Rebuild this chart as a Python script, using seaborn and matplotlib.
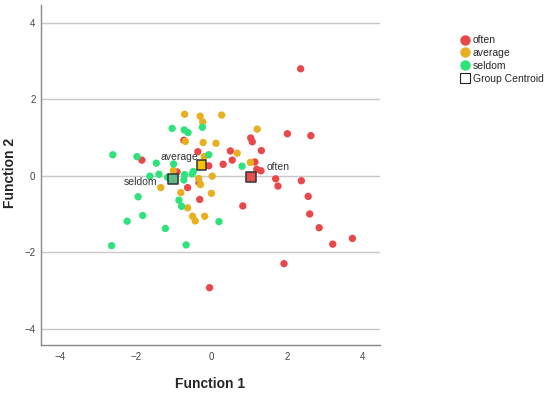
import matplotlib
matplotlib.use("Agg")
import matplotlib.pyplot as plt
import seaborn as sns
import pandas as pd
from matplotlib.lines import Line2D

often_x = [2.36, 2.01, 2.63, -0.73, 1.04, 1.08, 1.32, 0.50, 0.55, 0.31, -0.36, -1.84, -0.07,
           1.15, 1.20, 1.31, -0.91, -0.33, 1.70, 1.76, 2.38, -0.63, -0.31, 0.83, 2.56, 2.60,
           2.85, 3.73, 3.21, 1.92, -0.05]
often_y = [2.80, 1.10, 1.05, 0.93, 0.99, 0.89, 0.66, 0.65, 0.41, 0.30, 0.63, 0.41, 0.26,
           0.36, 0.17, 0.13, 0.10, -0.18, -0.08, -0.27, -0.13, -0.31, -0.62, -0.79, -0.54, -1.00,
           -1.36, -1.64, -1.79, -2.30, -2.93]
average_x = [-0.71, -0.30, -0.23, 0.27, 1.21, -0.69, -0.22, 0.12, 0.68, -0.19, 1.03, -1.01,
             -0.34, 0.02, -0.29, -1.34, -0.81, 0.00, -0.63, -0.50, -0.43, -0.18]
average_y = [1.61, 1.56, 1.41, 1.59, 1.22, 0.90, 0.87, 0.85, 0.59, 0.50, 0.35, 0.14,
             -0.07, -0.01, -0.23, -0.31, -0.44, -0.46, -0.84, -1.06, -1.18, -1.06]
seldom_x = [-1.04, -0.72, -0.62, -0.24, -2.61, -1.97, -1.46, -1.00, -0.07, 0.81, -1.63, -1.39,
            -1.16, -0.71, -0.73, -0.51, -0.48, -1.94, -0.86, -0.79, -1.82, -2.23, 0.20, -1.22,
            -2.64, -0.67]
seldom_y = [1.24, 1.20, 1.13, 1.27, 0.55, 0.50, 0.33, 0.31, 0.55, 0.25, -0.01, 0.04,
            -0.04, 0.03, -0.11, 0.05, 0.11, -0.55, -0.64, -0.80, -1.04, -1.19, -1.20, -1.38,
            -1.83, -1.81]

groups = ["often", "average", "seldom"]
centroid_x = [1.05, -0.26, -1.02]
centroid_y = [-0.03, 0.28, -0.09]
x_ticks = [-4, -2, 0, 2, 4]
y_ticks = [-4, -2, 0, 2, 4]

colors = {"often": "#e8484b", "average": "#e8b020", "seldom": "#2ee27c"}
centroid_colors = {"often": "#e85050", "average": "#f3c300", "seldom": "#62b98a"}

df = pd.DataFrame({
    "Function 1": often_x + average_x + seldom_x,
    "Function 2": often_y + average_y + seldom_y,
    "group": ["often"] * len(often_x) + ["average"] * len(average_x) + ["seldom"] * len(seldom_x),
})
cdf = pd.DataFrame({"x": centroid_x, "y": centroid_y, "group": groups})

sns.set_style("white")
plt.rcParams["font.family"] = ["Liberation Sans", "DejaVu Sans"]

fig = plt.figure(figsize=(5.5, 3.94), dpi=100)
ax = fig.add_axes([41 / 550, 1 - 345 / 394, (380 - 41) / 550, (345 - 5) / 394])

for yv in y_ticks:
    ax.axhline(yv, color="#c8c8c8", lw=1.0, zorder=0)

sns.scatterplot(data=df, x="Function 1", y="Function 2", hue="group", hue_order=groups,
                palette=colors, s=28, linewidth=0, ax=ax, legend=False, zorder=3)
sns.scatterplot(data=cdf, x="x", y="y", hue="group", hue_order=groups,
                palette=centroid_colors, marker="s", s=48, edgecolor="#333333",
                linewidth=1.1, ax=ax, legend=False, zorder=4)

ax.annotate("average", (centroid_x[1], centroid_y[1]), xytext=(-2.5, 6), textcoords="offset points",
            ha="right", va="center", fontsize=7.5, color="#333333", zorder=5)
ax.annotate("often", (centroid_x[0], centroid_y[0]), xytext=(11.5, 7), textcoords="offset points",
            ha="left", va="center", fontsize=7.5, color="#333333", zorder=5)
ax.annotate("seldom", (centroid_x[2], centroid_y[2]), xytext=(-11, -1.7), textcoords="offset points",
            ha="right", va="center", fontsize=7.5, color="#333333", zorder=5)

ax.set_xlim(-4.51, 4.46)
ax.set_ylim(-4.43, 4.47)
ax.set_xticks(x_ticks)
ax.set_yticks(y_ticks)
ax.set_xticklabels(["\u22124", "\u22122", "0", "2", "4"])
ax.set_yticklabels(["\u22124", "\u22122", "0", "2", "4"])
ax.tick_params(axis="x", length=0, labelsize=7, colors="#444444", pad=5)
ax.tick_params(axis="y", length=0, labelsize=7, colors="#444444", pad=4)
ax.set_xlabel("Function 1", fontsize=10, fontweight="bold")
ax.set_ylabel("Function 2", fontsize=10, fontweight="bold")
ax.xaxis.set_label_coords(0.5, -0.115)
ax.yaxis.set_label_coords(-0.09, 0.506)
ax.xaxis.label.set_va("center")
ax.yaxis.label.set_va("center")
for side in ["top", "right"]:
    ax.spines[side].set_visible(False)
for side in ["left", "bottom"]:
    ax.spines[side].set_color("#888888")
    ax.spines[side].set_linewidth(1.0)

handles = [Line2D([], [], marker="o", ls="", markersize=7.5, markerfacecolor=colors[g],
                  markeredgewidth=0) for g in groups]
handles.append(Line2D([], [], marker="s", ls="", markersize=6.5, markerfacecolor="white",
                      markeredgecolor="#222222", markeredgewidth=0.8))
labels = groups + ["Group Centroid"]
fig.legend(handles, labels, loc="upper left", bbox_to_anchor=(456 / 550, 1 - 30 / 394),
           frameon=False, fontsize=7.5, handlelength=0.8, handletextpad=0.3, labelspacing=0.28,
           borderpad=0)

fig.savefig("out.png", dpi=100)
